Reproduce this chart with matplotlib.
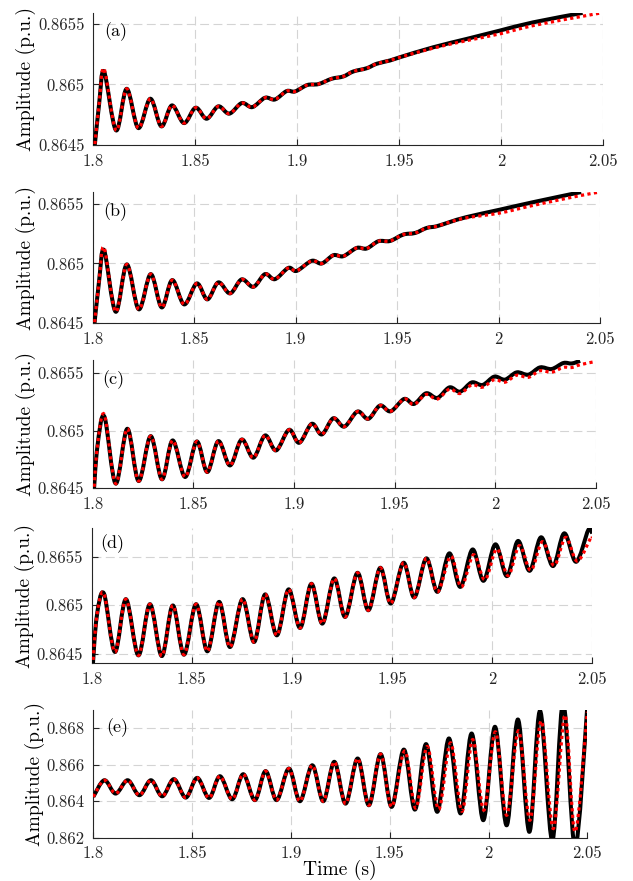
import numpy as np
import matplotlib
matplotlib.use("Agg")
import matplotlib.pyplot as plt
from matplotlib.path import Path
from matplotlib.patches import PathPatch

plt.rcParams["font.family"] = "serif"
plt.rcParams["font.serif"] = ["cmr10"]
plt.rcParams["mathtext.fontset"] = "cm"
plt.rcParams["axes.unicode_minus"] = False

# extrema of each trace (time s, amplitude p.u.)
t_a = [1.8003, 1.8030, 1.8054, 1.8113, 1.8165, 1.8222, 1.8281, 1.8335, 1.8387, 1.8446,
       1.8503, 1.8557, 1.8614, 1.8668, 1.8729, 1.8781, 1.8843, 1.8892, 1.8949, 1.8990,
       1.9050, 1.9105, 1.9170, 1.9227, 1.9276, 1.9342, 1.9391, 1.9456, 1.9505, 1.9668,
       1.9832, 1.9995, 2.0158, 2.0400]
y_a = [0.86440, 0.864840, 0.865107, 0.864621, 0.864964, 0.864640, 0.864882, 0.864654, 0.864827, 0.864681,
       0.864808, 0.864717, 0.864819, 0.864759, 0.864846, 0.864813, 0.864890, 0.864876, 0.864945, 0.864942,
       0.864995, 0.865003, 0.865047, 0.865066, 0.865107, 0.865134, 0.865171, 0.865198, 0.865225, 0.865307,
       0.865376, 0.865445, 0.865513, 0.865591]
rt_a = t_a[:29] + [1.9668, 1.9832, 1.9995, 2.0158, 2.0400, 2.0493]
ry_a = y_a[:2] + [0.865130] + y_a[3:29] + [0.865300, 0.865362, 0.865418, 0.865486, 0.865563, 0.865591]

t_b = [1.8003, 1.8031, 1.8056, 1.8113, 1.8168, 1.8227, 1.8286, 1.8340, 1.8392, 1.8451,
       1.8513, 1.8565, 1.8619, 1.8677, 1.8734, 1.8792, 1.8849, 1.8898, 1.8964, 1.9005,
       1.9079, 1.9129, 1.9186, 1.9235, 1.9301, 1.9350, 1.9408, 1.9465, 1.9531, 1.9589,
       1.9646, 1.9695, 1.9761, 1.9843, 2.0007, 2.0172, 2.0407]
y_b = [0.86440, 0.864847, 0.865111, 0.864597, 0.864992, 0.864617, 0.864911, 0.864633, 0.864861, 0.864658,
       0.864833, 0.864700, 0.864842, 0.864750, 0.864867, 0.864805, 0.864911, 0.864869, 0.864963, 0.864938,
       0.865022, 0.865000, 0.865069, 0.865061, 0.865130, 0.865125, 0.865186, 0.865188, 0.865242, 0.865255,
       0.865297, 0.865311, 0.865347, 0.865388, 0.865450, 0.865513, 0.865597]
rt_b = t_b[:33] + [1.9843, 2.0007, 2.0172, 2.0407, 2.0500]
ry_b = y_b[:2] + [0.865133] + y_b[3:33] + [0.865382, 0.865422, 0.865486, 0.865569, 0.865597]

t_c = [1.8003, 1.8023, 1.8058, 1.8114, 1.8172, 1.8228, 1.8288, 1.8344, 1.8397, 1.8459,
       1.8517, 1.8569, 1.8624, 1.8682, 1.8740, 1.8798, 1.8856, 1.8911, 1.8975, 1.9026,
       1.9088, 1.9138, 1.9195, 1.9250, 1.9315, 1.9369, 1.9427, 1.9480, 1.9547, 1.9596,
       1.9656, 1.9712, 1.9772, 1.9825, 1.9883, 1.9937, 1.9995, 2.0048, 2.0106, 2.0164,
       2.0222, 2.0280, 2.0338, 2.0380, 2.0421]
y_c = [0.86440, 0.864856, 0.865121, 0.864541, 0.865015, 0.864563, 0.864951, 0.864578, 0.864914, 0.864598,
       0.864905, 0.864641, 0.864908, 0.864698, 0.864922, 0.864765, 0.864957, 0.864828, 0.865006, 0.864894,
       0.865058, 0.864966, 0.865106, 0.865034, 0.865164, 0.865101, 0.865216, 0.865166, 0.865273, 0.865230,
       0.865322, 0.865282, 0.865373, 0.865336, 0.865416, 0.865394, 0.865466, 0.865440, 0.865503, 0.865483,
       0.865546, 0.865532, 0.865584, 0.865580, 0.865603]
rt_c = t_c + [2.0497]
ry_c = (y_c[:2] + [0.865138] + y_c[3:29]
        + [0.865225, 0.865312, 0.865272, 0.865358, 0.865320, 0.865395, 0.865375, 0.865440, 0.865418,
           0.865478, 0.865460, 0.865517, 0.865505, 0.865546, 0.865545, 0.865569, 0.865597])

t_d = [1.8003, 1.8025, 1.8061, 1.8116, 1.8171, 1.8233, 1.8291, 1.8350, 1.8405, 1.8461,
       1.8521, 1.8578, 1.8636, 1.8691, 1.8753, 1.8811, 1.8866, 1.8925, 1.8983, 1.9041,
       1.9097, 1.9152, 1.9211, 1.9266, 1.9327, 1.9382, 1.9441, 1.9494, 1.9557, 1.9611,
       1.9671, 1.9727, 1.9786, 1.9841, 1.9902, 1.9957, 2.0016, 2.0074, 2.0129, 2.0187,
       2.0244, 2.0304, 2.0360, 2.0419, 2.0480, 2.0500]
y_d = [0.86430, 0.864879, 0.865121, 0.864517, 0.865062, 0.864482, 0.865010, 0.864475, 0.864997, 0.864489,
       0.865010, 0.864524, 0.865034, 0.864568, 0.865062, 0.864620, 0.865111, 0.864689, 0.865163, 0.864765,
       0.865221, 0.864810, 0.865276, 0.864879, 0.865334, 0.864948, 0.865386, 0.865018, 0.865438, 0.865080,
       0.865483, 0.865138, 0.865535, 0.865189, 0.865575, 0.865252, 0.865628, 0.865300, 0.865663, 0.865355,
       0.865701, 0.865404, 0.865742, 0.865448, 0.865776, 0.865740]
rt_d = t_d[:32] + [1.9793, 1.9846, 1.9907, 1.9964, 2.0023, 2.0080, 2.0136, 2.0193, 2.0251, 2.0310,
                   2.0367, 2.0425, 2.0492, 2.0500]
ry_d = y_d[:32] + [0.865505, 0.865189, 0.865520, 0.865262, 0.865580, 0.865305, 0.865615, 0.865360,
                   0.865655, 0.865410, 0.865700, 0.865455, 0.865695, 0.865690]

t_e = [1.8000, 1.8056, 1.8113, 1.8174, 1.8233, 1.8292, 1.8349, 1.8408, 1.8468, 1.8526,
       1.8586, 1.8641, 1.8703, 1.8759, 1.8818, 1.8872, 1.8928, 1.8990, 1.9046, 1.9108,
       1.9164, 1.9220, 1.9277, 1.9338, 1.9395, 1.9454, 1.9510, 1.9572, 1.9628, 1.9684,
       1.9741, 1.9800, 1.9859, 1.9915, 1.9974, 2.0033, 2.0092, 2.0149, 2.0207, 2.0261,
       2.0323, 2.0378, 2.0438, 2.0500]
y_e = [0.86424, 0.86515, 0.86442, 0.86515, 0.86433, 0.86515, 0.86427, 0.86521, 0.86420, 0.86528,
       0.86418, 0.86537, 0.86411, 0.86548, 0.86406, 0.86565, 0.86406, 0.86579, 0.86400, 0.86597,
       0.86400, 0.86616, 0.86387, 0.86634, 0.86378, 0.86658, 0.86369, 0.86683, 0.86354, 0.86713,
       0.86342, 0.86744, 0.86333, 0.86771, 0.86296, 0.86808, 0.86268, 0.86848, 0.86232, 0.86895,
       0.86185, 0.86940, 0.86150, 0.86920]
rt_e = t_e[:27] + [1.9576, 1.9632, 1.9690, 1.9748, 1.9808, 1.9866, 1.9920, 1.9977, 2.0035, 2.0092,
                   2.0152, 2.0210, 2.0267, 2.0328, 2.0387, 2.0438, 2.0500]
ry_e = y_e[:27] + [0.86675, 0.86362, 0.86700, 0.86355, 0.86720, 0.86345, 0.86738, 0.86351, 0.86780, 0.86323,
                   0.86786, 0.86296, 0.86840, 0.86250, 0.86872, 0.86232, 0.86890]

black = [(t_a, y_a), (t_b, y_b), (t_c, y_c), (t_d, y_d), (t_e, y_e)]
red = [(rt_a, ry_a), (rt_b, ry_b), (rt_c, ry_c), (rt_d, ry_d), (rt_e, ry_e)]
panel_names = ["(a)", "(b)", "(c)", "(d)", "(e)"]
x_ticks = [1.8, 1.85, 1.9, 1.95, 2.0, 2.05]
x_tick_labels = ["1.8", "1.85", "1.9", "1.95", "2", "2.05"]
y_ticks_small = [0.8645, 0.865, 0.8655]
y_tick_labels_small = ["0.8645", "0.865", "0.8655"]
y_ticks_e = [0.862, 0.864, 0.866, 0.868]
y_tick_labels_e = ["0.862", "0.864", "0.866", "0.868"]
y_limits = [(0.8645, 0.86559), (0.8645, 0.86560), (0.8645, 0.86561), (0.8644, 0.8658), (0.862, 0.869)]

W, H = 633, 881
# axes boxes in pixels: left, right, top, bottom
boxes = [(93, 603, 13, 145), (92.7, 600, 191.7, 323.3), (92.7, 596, 360, 488.3),
         (91.7, 592.3, 527.7, 663.3), (93.3, 587.3, 710, 837.7)]
label_pos = [(0.022, 0.856), (0.021, 0.848), (0.018, 0.849), (0.018, 0.885), (0.027, 0.864)]


def smooth_path(t, y):
    # Catmull-Rom through the read extrema, drawn as cubic Bezier segments
    p = np.column_stack([t, y])
    p = np.vstack([p[0], p, p[-1]])
    verts = [p[1]]
    codes = [Path.MOVETO]
    for i in range(1, len(p) - 2):
        c1 = p[i] + (p[i + 1] - p[i - 1]) / 6
        c2 = p[i + 1] - (p[i + 2] - p[i]) / 6
        verts += [c1, c2, p[i + 1]]
        codes += [Path.CURVE4] * 3
    return Path(np.array(verts), codes)


fig = plt.figure(figsize=(W / 100, H / 100), dpi=100)
axc = "#262626"

for k in range(5):
    l, r, top, bot = boxes[k]
    ax = fig.add_axes([l / W, 1 - bot / H, (r - l) / W, (bot - top) / H])
    ax.set_xlim(1.8, 2.05)
    ax.set_ylim(*y_limits[k])
    ax.add_patch(PathPatch(smooth_path(*black[k]), fill=False, edgecolor="k",
                           lw=2.9, joinstyle="round", capstyle="butt", zorder=3))
    ax.add_patch(PathPatch(smooth_path(*red[k]), fill=False, edgecolor="#ff0000",
                           lw=2.3, linestyle=(0, (1, 1.05)), zorder=4))

    ax.set_xticks(x_ticks, x_tick_labels)
    if k < 4:
        ax.set_yticks(y_ticks_small, y_tick_labels_small)
    else:
        ax.set_yticks(y_ticks_e, y_tick_labels_e)
    ax.grid(True, color="#d4d4d4", lw=0.8, linestyle=(0, (8, 4)))
    ax.set_axisbelow(True)
    for s in ["top", "right"]:
        ax.spines[s].set_visible(False)
    for s in ["left", "bottom"]:
        ax.spines[s].set_color(axc)
        ax.spines[s].set_linewidth(0.8)
    ax.tick_params(direction="in", length=4, width=0.8, color=axc, labelsize=12,
                   labelcolor="#262626")
    ax.tick_params(axis="x", pad=6)
    ax.tick_params(axis="y", pad=6)
    ax.set_ylabel("Amplitude (p.u.)", fontsize=14, labelpad=1.5)
    ax.text(label_pos[k][0], label_pos[k][1], panel_names[k], transform=ax.transAxes,
            fontsize=13, va="center", ha="left")
    if k == 4:
        ax.set_xlabel("Time (s)", fontsize=14, labelpad=-1)

fig.savefig("out.png", dpi=100)
